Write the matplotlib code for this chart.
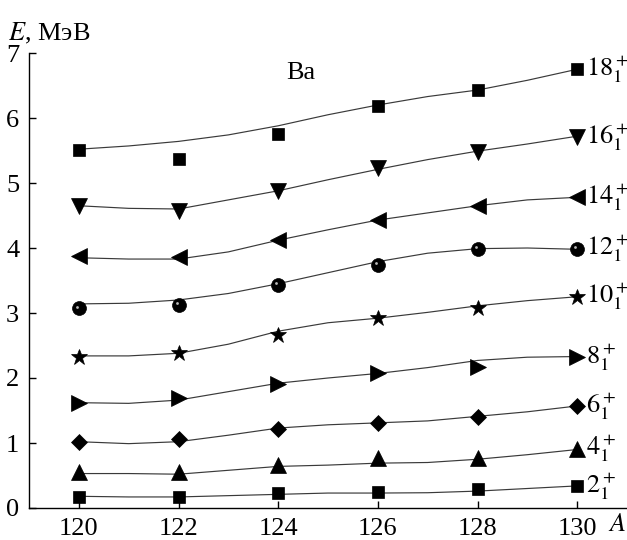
import matplotlib
matplotlib.use("Agg")
import matplotlib.pyplot as plt
from matplotlib.transforms import ScaledTranslation

plt.rcParams['font.family'] = ['Liberation Serif', 'DejaVu Serif']
plt.rcParams['mathtext.fontset'] = 'stix'

# Experimental points
A_exp = [120, 122, 124, 126, 128, 130]
E2 = [0.17, 0.17, 0.23, 0.245, 0.29, 0.34]
E4 = [0.56, 0.56, 0.66, 0.77, 0.77, 0.91]
E6 = [1.02, 1.06, 1.21, 1.31, 1.40, 1.57]
E8 = [1.62, 1.69, 1.91, 2.07, 2.17, 2.32]
E10 = [2.32, 2.38, 2.66, 2.93, 3.07, 3.25]
E12 = [3.07, 3.13, 3.43, 3.74, 3.99, 3.99]
E14 = [3.87, 3.86, 4.13, 4.43, 4.65, 4.78]
E16 = [4.64, 4.57, 4.88, 5.23, 5.48, 5.71]
E18 = [5.51, 5.37, 5.76, 6.18, 6.43, 6.75]

# Theoretical curves (read at each A)
A_th = [120, 121, 122, 123, 124, 125, 126, 127, 128, 129, 130]
T2 = [0.18, 0.17, 0.17, 0.19, 0.21, 0.23, 0.23, 0.235, 0.26, 0.30, 0.34]
T4 = [0.53, 0.53, 0.52, 0.58, 0.64, 0.66, 0.69, 0.70, 0.75, 0.82, 0.90]
T6 = [1.02, 0.99, 1.02, 1.12, 1.23, 1.28, 1.31, 1.34, 1.41, 1.48, 1.57]
T8 = [1.62, 1.61, 1.66, 1.79, 1.92, 2.00, 2.07, 2.16, 2.27, 2.32, 2.33]
T10 = [2.34, 2.34, 2.38, 2.52, 2.72, 2.85, 2.92, 3.01, 3.11, 3.19, 3.25]
T12 = [3.14, 3.15, 3.20, 3.30, 3.45, 3.62, 3.79, 3.92, 3.99, 4.00, 3.98]
T14 = [3.85, 3.83, 3.83, 3.94, 4.12, 4.28, 4.43, 4.54, 4.65, 4.74, 4.78]
T16 = [4.65, 4.61, 4.60, 4.74, 4.88, 5.05, 5.21, 5.36, 5.49, 5.60, 5.72]
T18 = [5.52, 5.57, 5.64, 5.74, 5.88, 6.05, 6.20, 6.33, 6.43, 6.58, 6.75]

labels = [r'$2_1^+$', r'$4_1^+$', r'$6_1^+$', r'$8_1^+$', r'$10_1^+$',
          r'$12_1^+$', r'$14_1^+$', r'$16_1^+$', r'$18_1^+$']
exp_sets = [E2, E4, E6, E8, E10, E12, E14, E16, E18]
th_sets = [T2, T4, T6, T8, T10, T12, T14, T16, T18]
markers = ['s', '^', 'D', '>', '*', 'o', '<', 'v', 's']
msizes = [8.5, 11, 8.5, 11, 12, 10, 11, 11, 8.5]
xticks = [120, 122, 124, 126, 128, 130]
yticks = [0, 1, 2, 3, 4, 5, 6, 7]

fig = plt.figure(figsize=(6.27, 5.40), dpi=100, facecolor='white')
ax = fig.add_axes([29/627, 32/540, 1 - 29/627, (508 - 53)/540])

for th, ex, m, ms, lab in zip(th_sets, exp_sets, markers, msizes, labels):
    ax.plot(A_th, th, '-', color='#3a3a3a', lw=0.85, zorder=2,
            solid_joinstyle='round')
    ax.plot(A_exp, ex, linestyle='none', marker=m, ms=ms, color='black',
            markeredgecolor='black', markeredgewidth=0.5, zorder=3)
    ax.annotate(lab, xy=(A_exp[-1], ex[-1]), xytext=(6.5, 0),
                textcoords='offset points', ha='left', va='center',
                fontsize=19, annotation_clip=False)

# highlight on the sphere markers
hl = ax.transData + ScaledTranslation(-1.4/72, 1.4/72, fig.dpi_scale_trans)
ax.plot(A_exp, E12, linestyle='none', marker='o', ms=2.0, color='#bbbbbb',
        markeredgewidth=0, transform=hl, zorder=4)

ax.set_xlim(119, 131)
ax.set_ylim(0, 7)
ax.set_xticks(xticks)
ax.set_yticks(yticks)
for s in ['top', 'right']:
    ax.spines[s].set_visible(False)
for s in ['left', 'bottom']:
    ax.spines[s].set_linewidth(1.0)
ax.tick_params(direction='in', length=5, width=1.0, labelsize=19)
ax.tick_params(axis='y', pad=7)
ax.tick_params(axis='x', pad=7)

ax.text(124.45, 6.7, 'Ba', fontsize=19, ha='center', va='center')
fig.text(8/627, 1 - 40/540, r'$E$, МэВ', fontsize=19, ha='left', va='baseline')
fig.text(617/627, 1 - 525/540, r'$A$', fontsize=19, ha='center', va='center')

fig.savefig('out.png', dpi=100, facecolor='white')
